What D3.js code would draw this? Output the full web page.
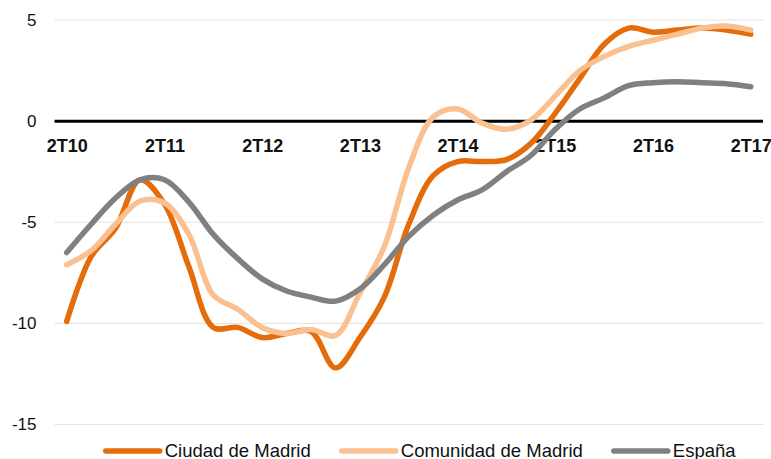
<!DOCTYPE html>
<html>
<head>
<meta charset="utf-8">
<script src="https://cdn.jsdelivr.net/npm/d3@7/dist/d3.min.js"></script>
<style>
  body { margin: 0; background: #fff; }
  text { font-family: "Liberation Sans", Arial, Helvetica, sans-serif; fill: #111; }
</style>
</head>
<body>
<svg id="chart" width="771" height="459"></svg>
<script>
// quarters from 2T10 to 2T17
var quarters = ['2T10','3T10','4T10','1T11','2T11','3T11','4T11','1T12','2T12','3T12','4T12','1T13',
	'2T13','3T13','4T13','1T14','2T14','3T14','4T14','1T15','2T15','3T15','4T15','1T16',
	'2T16','3T16','4T16','1T17','2T17'];
var tickLabels = ['2T10','2T11','2T12','2T13','2T14','2T15','2T16','2T17'];
var yTicks = [-15, -10, -5, 0, 5];

var ciudad = [-9.9, -6.7, -5.3, -2.9, -4.1, -7.2, -10.2, -10.2, -10.7, -10.5, -10.4, -12.2, -10.7, -8.7,
	-5.1, -2.7, -2.0, -2.0, -1.9, -1.1, 0.4, 2.1, 3.8, 4.6, 4.4, 4.5, 4.6, 4.5, 4.3];
var comunidad = [-7.1, -6.4, -5.1, -3.95, -4.05, -5.6, -8.6, -9.3, -10.2, -10.5, -10.3, -10.6, -8.5, -6.2,
	-2.3, 0.2, 0.6, -0.1, -0.4, 0.05, 1.25, 2.5, 3.2, 3.7, 4.0, 4.3, 4.6, 4.7, 4.5];
var espana = [-6.5, -5.1, -3.8, -2.9, -2.9, -4.0, -5.6, -6.8, -7.8, -8.4, -8.7, -8.9, -8.3, -7.1,
	-5.7, -4.65, -3.9, -3.4, -2.5, -1.7, -0.4, 0.6, 1.15, 1.75, 1.9, 1.95, 1.9, 1.85, 1.7];

var seriesNames = ['Ciudad de Madrid', 'Comunidad de Madrid', 'España'];
var colors = ['#E46C0A', '#FAC090', '#808080'];
var series = [ciudad, comunidad, espana];

var svg = d3.select('#chart'),
	plotLeft = 54.5, plotRight = 763, plotTop = 20, plotBottom = 424.5;

var x = d3.scalePoint().domain(quarters).range([plotLeft, plotRight]).padding(0.5),
	y = d3.scaleLinear().domain([-15, 5]).range([plotBottom, plotTop]);

// gridlines
svg.append('g')
	.selectAll('line')
	.data(yTicks.filter(function(d) { return d !== 0; }))
	.enter().append('line')
	.attr('x1', plotLeft).attr('x2', plotRight)
	.attr('y1', function(d) { return y(d); })
	.attr('y2', function(d) { return y(d); })
	.attr('stroke', '#e2e2e2')
	.attr('stroke-width', 1);

// y axis labels (plain hyphen, like the original)
var yAxis = svg.append('g')
	.attr('transform', 'translate(' + plotLeft + ',0)')
	.call(d3.axisLeft(y).tickValues(yTicks).tickSize(0).tickPadding(18)
		.tickFormat(function(d) { return String(d); }));
yAxis.select('.domain').remove();
yAxis.selectAll('text')
	.style('font-size', '17px')
	.style('font-family', '"Liberation Sans", Arial, sans-serif')
	.attr('fill', '#111');

// zero line
svg.append('line')
	.attr('x1', plotLeft).attr('x2', plotRight)
	.attr('y1', y(0)).attr('y2', y(0))
	.attr('stroke', '#000')
	.attr('stroke-width', 3);

// x axis labels sit under the zero line
var xAxis = svg.append('g')
	.attr('transform', 'translate(0,' + y(0) + ')')
	.call(d3.axisBottom(x).tickValues(tickLabels).tickSize(0));
xAxis.select('.domain').remove();
xAxis.selectAll('text')
	.attr('y', 31).attr('dy', 0)
	.style('font-size', '18px')
	.style('font-weight', 'bold')
	.style('font-family', '"Liberation Sans", Arial, sans-serif')
	.attr('fill', '#000');

var line = d3.line()
	.x(function(d, i) { return x(quarters[i]); })
	.y(function(d) { return y(d); })
	.curve(d3.curveCatmullRom.alpha(0.5));

svg.selectAll('.series')
	.data(series)
	.enter().append('path')
	.attr('class', 'series')
	.attr('fill', 'none')
	.attr('stroke', function(d, i) { return colors[i]; })
	.attr('stroke-width', 5.5)
	.attr('stroke-linecap', 'round')
	.attr('stroke-linejoin', 'round')
	.attr('d', line);

// legend
var legend = svg.append('g');
var items = legend.selectAll('g')
	.data(seriesNames)
	.enter().append('g');
items.append('line')
	.attr('x1', 0).attr('x2', 54)
	.attr('y1', 451).attr('y2', 451)
	.attr('stroke', function(d, i) { return colors[i]; })
	.attr('stroke-width', 5.5)
	.attr('stroke-linecap', 'round');
items.append('text')
	.attr('x', 59)
	.attr('y', 457)
	.style('font-size', '18.5px')
	.text(function(d) { return d; });

var pos = 0;
items.each(function() {
	var w = this.getBBox().width;
	d3.select(this).attr('transform', 'translate(' + pos + ',0)');
	pos += w + 31;
});
var total = pos - 31;
legend.attr('transform', 'translate(' + (421 - total / 2) + ',0)');
</script>
</body>
</html>
